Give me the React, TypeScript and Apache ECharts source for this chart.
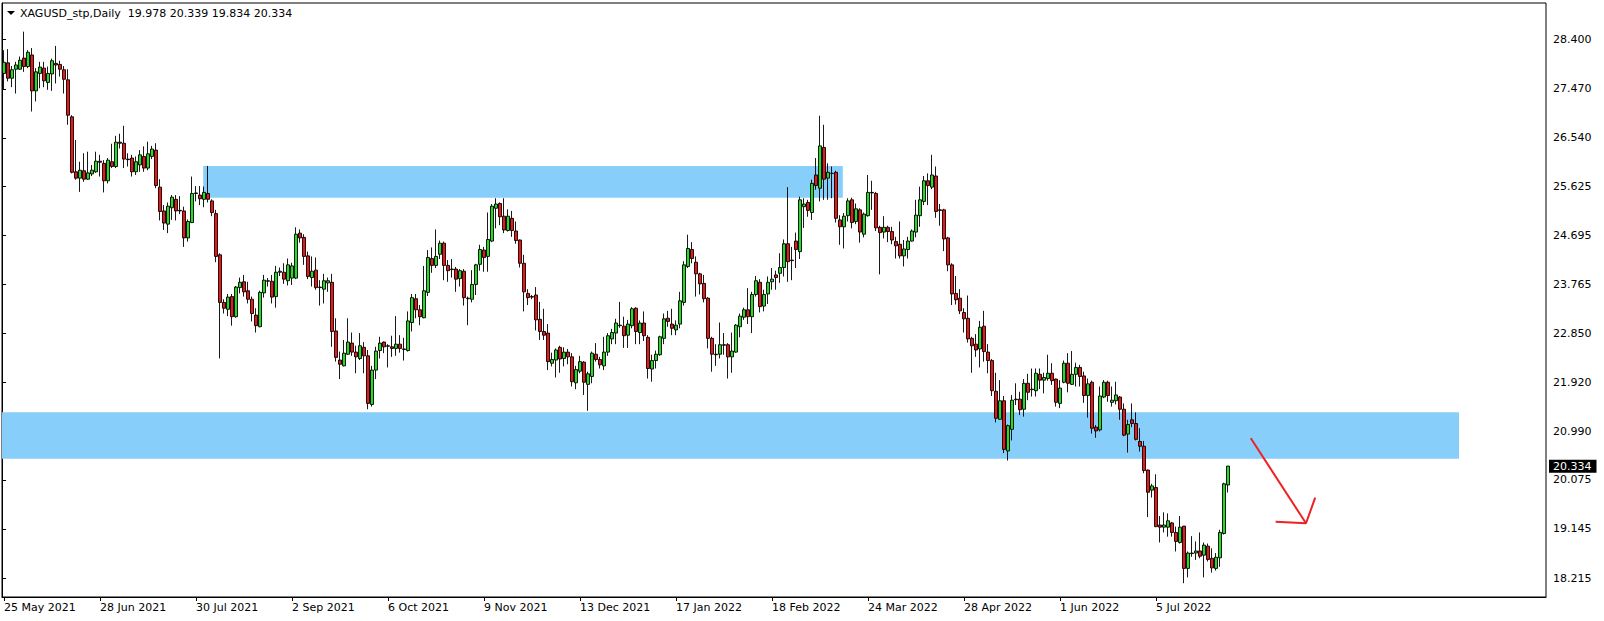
import React, { useEffect, useRef } from "react";
import * as echarts from "echarts";

// ---- Data ----
const SYMBOL = "XAGUSD_stp,Daily";
const START_DATE = Date.UTC(2021, 4, 25);
const MISSING_DAYS = ["2021-12-24", "2022-04-15"];
const TOTAL_SLOTS = 386; // bars + empty right shift
const LABEL_EVERY = 24;

const opens = [
  27.76,27.96,27.67,27.84,27.84,28.05,27.89,28.11,27.43,27.76,
  27.86,27.59,27.75,27.95,27.93,27.83,27.64,26.94,25.90,25.78,
  25.92,25.76,25.86,25.90,26.10,26.06,25.73,26.09,26.00,26.46,
  26.44,26.14,26.16,25.90,26.03,26.19,25.97,26.19,26.31,25.61,
  25.16,24.91,25.22,25.38,25.17,25.16,24.65,24.94,25.49,25.46,
  25.38,25.49,25.35,25.11,24.33,23.43,23.30,23.54,23.16,23.71,
  23.82,23.65,23.49,23.19,22.97,23.61,23.83,23.83,23.54,24.00,
  24.00,23.84,23.89,23.89,24.74,24.66,24.31,23.90,24.04,23.72,
  23.68,23.80,23.81,22.89,22.34,22.23,22.45,22.66,22.49,22.37,
  22.58,22.42,21.50,22.15,22.52,22.68,22.60,22.59,22.56,22.64,
  22.54,22.52,23.05,23.50,23.29,23.14,23.62,24.26,24.13,24.34,
  24.55,24.13,24.05,24.06,23.88,24.02,23.51,23.49,23.77,24.15,
  24.42,24.30,24.59,25.21,25.30,25.06,24.79,25.02,24.78,24.61,
  24.17,23.60,23.54,23.57,23.11,22.88,22.85,22.28,22.34,22.58,
  22.37,22.49,22.40,21.91,22.13,22.30,21.88,22.03,22.45,22.35,
  22.23,22.49,22.74,22.85,23.00,22.98,22.81,22.99,23.32,22.86,
  23.04,22.77,22.17,22.33,22.44,22.75,23.13,23.02,22.91,23.02,
  23.43,24.11,24.43,24.19,23.97,23.79,23.51,22.75,22.45,22.45,
  22.63,22.63,22.40,22.49,22.97,23.15,23.29,23.16,23.58,23.81,
  23.36,23.59,23.82,23.95,23.98,24.09,24.54,24.23,24.59,24.39,
  25.24,25.32,25.13,25.84,25.59,26.36,25.78,25.87,25.89,24.99,
  24.86,25.07,25.37,24.96,25.18,24.72,25.07,25.51,25.49,24.85,
  24.76,24.85,24.77,24.58,24.53,24.31,24.43,24.59,24.76,25.07,
  25.34,25.73,25.61,25.82,25.18,25.18,24.65,24.14,23.60,23.51,
  23.24,23.13,22.75,22.64,22.55,22.98,22.49,22.33,21.75,21.22,
  21.57,20.62,21.03,21.59,21.60,21.41,21.90,21.78,21.76,22.07,
  21.96,21.99,22.09,21.98,21.52,21.92,22.28,21.88,22.07,22.20,
  22.04,21.67,21.92,21.07,21.02,21.64,21.92,21.54,21.57,21.64,
  21.41,20.94,21.21,21.14,20.80,20.71,20.26,19.88,19.93,19.22,
  19.18,19.18,19.26,19.08,18.89,19.20,18.40,18.68,18.69,18.73,
  18.65,18.82,18.59,18.40,18.60,19.06,19.978,
];

const highs = [
  28.20,28.22,27.90,27.98,28.08,28.55,28.20,28.24,27.86,27.98,
  27.98,27.89,28.04,28.28,28.00,27.90,27.84,26.97,26.50,26.09,
  26.25,26.28,26.03,26.28,26.22,26.12,26.16,26.43,26.58,26.62,
  26.77,26.25,26.22,26.19,26.31,26.38,26.47,26.39,26.44,25.76,
  25.27,25.32,25.46,25.46,25.44,25.24,25.00,25.81,25.63,25.63,
  25.62,26.01,25.38,25.18,24.36,23.49,23.59,23.59,23.74,23.90,
  23.95,23.82,23.54,23.32,23.65,23.95,23.89,23.95,24.12,24.09,
  24.17,24.26,24.18,24.85,24.81,24.72,24.39,24.30,24.28,23.85,
  23.97,23.90,23.97,23.13,22.50,22.72,23.13,22.86,22.61,22.85,
  22.68,22.53,22.23,22.59,22.78,22.69,22.64,22.80,23.17,22.81,
  22.76,23.26,23.59,23.59,23.38,24.12,24.42,24.47,24.81,24.60,
  24.58,24.23,24.25,24.10,24.06,24.06,23.54,24.04,24.16,24.52,
  24.48,25.13,25.29,25.40,25.32,25.40,25.19,25.16,24.96,24.62,
  24.33,23.68,23.57,23.72,23.44,23.31,23.02,22.48,22.56,22.61,
  22.58,22.55,22.47,22.23,22.42,22.32,22.12,22.50,22.66,22.40,
  22.78,22.85,22.93,23.12,23.44,23.16,23.10,23.34,23.34,23.09,
  23.26,22.81,22.44,22.52,22.80,23.22,23.27,23.31,23.09,23.63,
  24.21,24.71,24.57,24.30,23.99,23.95,23.53,22.78,22.64,23.05,
  22.85,22.66,22.86,23.02,23.22,23.33,23.70,23.63,23.93,23.87,
  23.67,23.92,24.08,24.03,24.36,24.62,25.61,24.48,24.75,25.43,
  25.40,25.37,25.75,26.16,26.96,26.79,26.06,26.00,25.92,25.08,
  25.12,25.40,25.41,25.30,25.21,25.13,25.84,25.73,25.52,24.88,
  25.06,24.88,24.86,24.67,24.96,24.61,24.67,24.81,25.37,25.62,
  25.82,25.87,26.22,26.00,25.29,25.20,24.67,24.17,23.93,23.68,
  23.32,23.56,22.78,22.83,23.08,23.27,22.64,22.36,22.10,21.96,
  21.66,21.12,21.68,21.90,21.74,21.98,22.08,22.18,22.18,22.18,
  22.10,22.44,22.28,21.99,21.96,22.33,22.47,22.51,22.29,22.25,
  22.12,21.99,21.95,21.11,21.84,21.96,21.95,21.84,21.93,21.66,
  21.52,21.21,21.52,21.35,21.05,20.81,20.27,20.00,20.18,19.39,
  19.46,19.44,19.28,19.19,19.39,19.20,18.72,19.01,18.91,19.08,
  18.89,18.87,18.78,18.69,19.13,20.02,20.339,
];

const lows = [
  27.46,27.61,27.50,27.38,27.83,27.79,27.86,27.04,27.23,27.48,
  27.50,27.45,27.43,27.57,27.70,27.38,26.79,25.87,25.75,25.52,
  25.71,25.75,25.82,25.88,25.81,25.51,25.68,25.97,25.97,26.34,
  25.97,26.00,25.81,25.84,25.90,25.90,25.93,26.14,25.59,24.98,
  24.80,24.74,24.99,24.98,25.10,24.48,24.58,24.93,25.34,25.27,
  25.23,25.32,25.06,24.19,22.37,23.22,23.17,22.99,23.14,23.60,
  23.54,23.41,23.07,22.86,22.96,23.52,23.73,23.41,23.33,23.93,
  23.78,23.75,23.76,23.87,24.56,24.14,23.87,23.73,23.67,23.37,
  23.41,23.63,22.59,22.31,21.98,22.22,22.44,22.42,22.09,22.34,
  22.09,21.41,21.46,21.98,22.37,22.47,22.20,22.40,22.42,22.48,
  22.33,22.50,22.88,23.13,23.00,23.13,23.55,23.99,24.08,24.25,
  23.85,23.82,23.90,23.63,23.73,23.37,23.00,23.43,23.57,24.03,
  24.01,24.01,24.57,24.83,24.89,24.74,24.77,24.67,24.54,24.09,
  23.26,23.38,23.49,22.90,22.72,22.72,22.15,22.22,22.01,22.10,
  22.22,22.26,21.84,21.79,22.09,21.68,21.38,21.90,22.31,22.18,
  22.15,22.42,22.64,22.64,22.95,22.57,22.57,22.94,22.64,22.64,
  22.70,21.99,21.93,22.18,22.42,22.64,22.97,22.81,22.81,22.94,
  23.37,24.08,24.17,23.54,23.58,23.43,22.56,22.12,22.23,22.37,
  22.44,21.99,22.10,22.48,22.77,23.10,23.02,22.85,23.54,23.24,
  23.26,23.40,23.67,23.67,23.80,23.92,23.82,23.85,24.08,24.25,
  24.84,25.05,24.99,25.56,25.34,25.37,25.37,25.40,24.94,24.52,
  24.45,24.96,24.83,24.91,24.56,24.66,25.05,25.18,24.78,23.96,
  24.64,24.57,24.53,24.26,24.26,24.11,24.26,24.58,24.66,24.86,
  25.27,25.27,25.57,25.03,24.88,24.40,24.02,23.38,23.39,23.21,
  22.86,22.67,22.10,22.40,22.20,22.31,22.09,21.66,21.16,21.21,
  20.58,20.44,20.82,21.49,21.30,21.27,21.58,21.65,21.65,21.79,
  21.71,21.95,21.87,21.46,21.43,21.90,21.73,21.87,21.84,21.84,
  21.53,21.25,20.95,20.87,20.99,21.62,21.55,21.46,21.50,21.21,
  20.90,20.59,21.07,20.82,20.61,20.20,19.37,19.74,19.18,18.89,
  19.08,19.00,19.00,18.72,18.87,18.12,18.23,18.62,18.56,18.59,
  18.23,18.53,18.32,18.36,18.43,19.04,19.834,
];

const closes = [
  27.97,27.67,27.83,27.92,28.01,27.89,28.16,27.43,27.79,27.88,
  27.62,27.76,28.00,27.92,27.84,27.65,26.97,25.89,25.78,25.93,
  25.76,25.88,25.93,26.10,26.08,25.73,26.12,26.00,26.46,26.44,
  26.14,26.13,25.90,26.09,26.22,25.97,26.24,26.33,25.64,25.15,
  24.93,25.25,25.42,25.16,25.16,24.65,24.96,25.49,25.50,25.39,
  25.51,25.38,25.13,24.30,23.43,23.32,23.53,23.16,23.72,23.81,
  23.63,23.49,23.22,22.99,23.62,23.85,23.84,23.53,24.00,24.02,
  23.87,24.14,24.12,24.72,24.65,24.30,23.92,24.02,23.71,23.71,
  23.84,23.84,22.88,22.39,22.26,22.47,22.68,22.49,22.40,22.61,
  22.42,21.52,22.15,22.51,22.66,22.59,22.61,22.56,22.64,22.56,
  22.55,23.08,23.52,23.29,23.16,23.65,24.28,24.13,24.30,24.55,
  24.13,24.03,24.06,23.87,24.03,23.52,23.50,23.77,24.14,24.43,
  24.28,24.62,25.25,25.29,25.05,24.80,25.06,24.79,24.60,24.17,
  23.63,23.52,23.53,23.10,22.88,22.81,22.31,22.35,22.53,22.36,
  22.49,22.40,21.93,22.16,22.31,21.92,22.08,22.47,22.35,22.25,
  22.49,22.80,22.86,23.04,22.99,22.80,23.02,23.31,22.88,23.04,
  22.80,22.18,22.33,22.45,22.78,23.12,23.07,22.94,23.00,23.46,
  24.14,24.45,24.26,23.97,23.78,23.50,22.75,22.45,22.44,22.63,
  22.62,22.40,22.51,23.00,23.17,23.29,23.16,23.58,23.84,23.35,
  23.58,23.81,23.87,23.90,24.09,24.54,24.20,24.22,24.43,25.37,
  25.29,25.17,25.68,25.64,26.39,25.76,25.89,25.87,25.02,24.86,
  25.06,25.35,24.94,25.20,24.76,25.10,25.51,25.50,24.84,24.75,
  24.85,24.77,24.61,24.50,24.31,24.44,24.59,24.78,25.08,25.37,
  25.73,25.64,25.84,25.15,25.17,24.63,24.14,23.59,23.48,23.27,
  23.12,22.74,22.61,22.53,22.96,22.50,22.33,21.76,21.24,21.57,
  20.65,21.10,21.58,21.60,21.40,21.90,21.73,21.79,22.09,21.96,
  22.01,22.09,21.95,21.54,21.81,22.28,21.90,22.07,22.20,22.03,
  21.67,21.89,21.05,21.00,21.66,21.92,21.67,21.58,21.68,21.41,
  20.92,21.12,21.14,20.84,20.71,20.25,19.84,19.96,19.19,19.18,
  19.22,19.30,19.08,18.91,19.18,18.40,18.69,18.69,18.73,18.63,
  18.84,18.57,18.41,18.61,19.08,20.00,20.334,
];

const PRICE_TICKS = [28.4, 27.47, 26.54, 25.625, 24.695, 23.765, 22.85, 21.92, 20.99, 20.075, 19.145, 18.215];
const Y_MIN = 17.859;
const Y_MAX = 29.092;

// Drawn objects (x in bar-slot units, y in price)
const ZONES = [
  { x0: 50.3, x1: 210.2, top: 26.01, bottom: 25.41 },
  { x0: 0, x1: 364.25, top: 21.352, bottom: 20.475 },
];
const ARROW_SHAFT = [[312.2, 20.86], [326.0, 19.253]];
const ARROW_HEAD = [[318.4, 19.283], [326.0, 19.253], [328.3, 19.737]];

const MONTHS = ["Jan","Feb","Mar","Apr","May","Jun","Jul","Aug","Sep","Oct","Nov","Dec"];

function buildDates(count: number): string[] {
  const out: string[] = [];
  let t = START_DATE;
  while (out.length < count) {
    const d = new Date(t);
    const wd = d.getUTCDay();
    const iso = d.toISOString().slice(0, 10);
    if (wd !== 0 && wd !== 6 && !MISSING_DAYS.includes(iso)) {
      out.push(`${d.getUTCDate()} ${MONTHS[d.getUTCMonth()]} ${d.getUTCFullYear()}`);
    }
    t += 86400000;
  }
  return out;
}

const FONT = "DejaVu Sans";

export default function App() {
  const ref = useRef<HTMLDivElement>(null);

  useEffect(() => {
    document.body.style.margin = "0";
    if (!ref.current) return;
    const chart = echarts.init(ref.current, null, { renderer: "svg" });
    const nBars = opens.length;
    const dates = buildDates(TOTAL_SLOTS);
    const candles = opens.map((o, i) => [o, closes[i], lows[i], highs[i]]);
    const last = nBars - 1;
    const header = `${SYMBOL}  ${opens[last].toFixed(3)} ${highs[last].toFixed(3)} ${lows[last].toFixed(3)} ${closes[last].toFixed(3)}`;
    const showIdx = (i: number) => i % LABEL_EVERY === 0 && i < nBars;

    chart.setOption({
      animation: false,
      backgroundColor: "#ffffff",
      textStyle: { fontFamily: FONT },
      title: {
        text: header,
        left: 20,
        top: 7,
        padding: 0,
        textStyle: { fontSize: 11, fontWeight: "normal", color: "#000", fontFamily: FONT, lineHeight: 13 },
      },
      graphic: [
        { type: "polygon", shape: { points: [[7, 11], [15, 11], [11, 15]] }, style: { fill: "#000" } },
      ],
      grid: { left: 2, right: 58, top: 3, bottom: 24, show: true, borderColor: "#000", borderWidth: 1, backgroundColor: "transparent" },
      xAxis: [
        {
          type: "category",
          data: dates,
          boundaryGap: true,
          axisLine: { show: true, lineStyle: { color: "#000", width: 1 } },
          axisTick: { show: true, alignWithLabel: true, interval: showIdx, length: 4, lineStyle: { color: "#000" } },
          axisLabel: { interval: showIdx, align: "left", margin: 5, fontSize: 11, color: "#000", fontFamily: FONT },
          splitLine: { show: false },
        },
        { type: "value", min: 0, max: TOTAL_SLOTS, show: false, gridIndex: 0 },
      ],
      yAxis: {
        type: "value",
        position: "right",
        min: Y_MIN,
        max: Y_MAX,
        splitLine: { show: false },
        axisLine: { show: true, lineStyle: { color: "#000", width: 1 } },
        axisTick: { show: true, customValues: PRICE_TICKS, length: 4, lineStyle: { color: "#000" } },
        axisLabel: { customValues: PRICE_TICKS, formatter: (v: number) => v.toFixed(3), margin: 7, fontSize: 11, color: "#000", fontFamily: FONT },
      },
      series: [
        {
          name: "arrow",
          type: "line",
          xAxisIndex: 1,
          data: ARROW_SHAFT,
          symbol: "none",
          silent: true,
          z: 1,
          lineStyle: { color: "#ee2222", width: 2 },
          markArea: {
            silent: true,
            itemStyle: { color: "#87CEFA", opacity: 1 },
            data: ZONES.map((z) => [{ xAxis: z.x0, yAxis: z.top }, { xAxis: z.x1, yAxis: z.bottom }]),
          },
        },
        {
          name: "arrowHead",
          type: "line",
          xAxisIndex: 1,
          data: ARROW_HEAD,
          symbol: "none",
          silent: true,
          z: 1,
          lineStyle: { color: "#ee2222", width: 2 },
        },
        {
          name: SYMBOL,
          type: "candlestick",
          data: candles,
          barWidth: 2.7,
          z: 3,
          silent: true,
          itemStyle: { color: "#1ee01e", color0: "#f01414", borderColor: "#000", borderColor0: "#000", borderWidth: 0.9 },
        },
        {
          name: "lastPrice",
          type: "line",
          data: [],
          silent: true,
          z: 5,
          markLine: {
            silent: true,
            symbol: ["none", "none"],
            lineStyle: { color: "rgba(0,0,0,0)", width: 0 },
            data: [{ yAxis: closes[last] }],
            label: {
              show: true,
              position: "end",
              distance: 3,
              formatter: closes[last].toFixed(3),
              color: "#fff",
              backgroundColor: "#000",
              padding: [1, 5, 0, 4],
              fontSize: 11,
              lineHeight: 12,
              fontFamily: FONT,
              opacity: 1,
            },
          },
        },
      ],
    });
    return () => chart.dispose();
  }, []);

  return <div ref={ref} style={{ width: 1604, height: 621 }} />;
}
